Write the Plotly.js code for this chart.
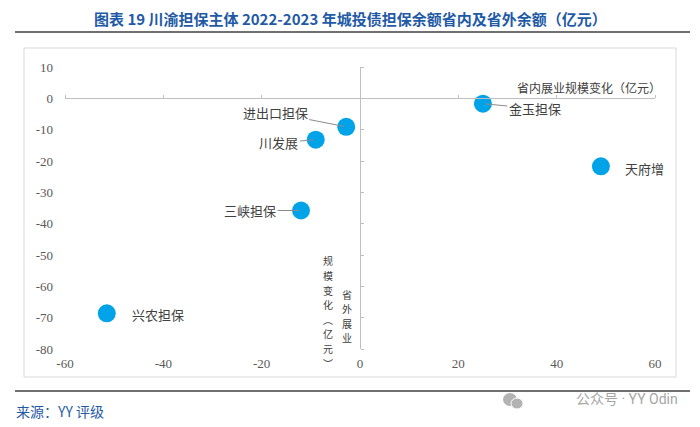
<!DOCTYPE html>
<html>
<head>
<meta charset="utf-8">
<script src="https://cdn.plot.ly/plotly-3.0.1.min.js"></script>
<style>html,body{margin:0;padding:0;background:#fff;}#chart{width:700px;height:427px;}</style>
</head>
<body>
<div id="chart"></div>
<script>
// ---- data ----
const names = ['金玉担保', '天府增', '进出口担保', '川发展', '三峡担保', '兴农担保'];
const domesticChange = [25.0, 49.0, -2.8, -9.0, -12.0, -51.5];   // 省内展业规模变化（亿元）
const externalChange = [-1.7, -21.7, -9.1, -13.2, -35.8, -68.6];  // 省外展业规模变化（亿元）
const xTicks = [-60, -40, -20, 0, 20, 40, 60];
const yTicks = [10, 0, -10, -20, -30, -40, -50, -60, -70, -80];
const xTitle = '省内展业规模变化（亿元）';
const yTitleRight = '省外展业';
const yTitleLeft = '规模变化︵亿元︶';

// label placement (pixel offsets from point) and whether a leader line is drawn
const labelOffsetX = [52, 44, -71, -37, -51, 51];
const labelOffsetY = [5, 2, -14, 3, 0, 1];
const labelLeader = [true, false, true, true, true, false];

// ---- layout helpers ----
const W = 700, H = 427, ML = 65, MR = 45, MT = 67, MB = 78;
const PW = W - ML - MR, PH = H - MT - MB;
const PX = p => (p - ML) / PW;
const PY = p => (H - MB - p) / PH;

const serif = 'Liberation Serif, Times New Roman, serif';
const cjk = 'Noto Sans CJK SC, sans-serif';

const traces = [
  {
    type: 'scatter', mode: 'markers',
    x: domesticChange, y: externalChange, text: names,
    marker: {size: 18, color: '#00a3e8'},
    hoverinfo: 'text+x+y', showlegend: false, cliponaxis: false
  },
  {type: 'scatter', mode: 'markers', x: [], y: [], xaxis: 'x2', yaxis: 'y2', showlegend: false, hoverinfo: 'skip'}
];

const annotations = names.map((n, i) => ({
  xref: 'x', yref: 'y', x: domesticChange[i], y: externalChange[i],
  text: n, showarrow: true, ax: labelOffsetX[i], ay: labelOffsetY[i],
  arrowhead: 0, arrowwidth: 1, standoff: 2,
  arrowcolor: labelLeader[i] ? '#8c8c8c' : 'rgba(0,0,0,0)',
  font: {family: cjk, size: 13, color: '#404040'}
}));

annotations.push(
  {xref: 'paper', yref: 'paper', x: PX(350), y: PY(18), xanchor: 'center', yanchor: 'middle', showarrow: false,
   text: '<b>图表 19 川渝担保主体 2022-2023 年城投债担保余额省内及省外余额（亿元）</b>',
   font: {family: cjk, size: 15, color: '#1f5aa6'}},
  {xref: 'paper', yref: 'paper', x: PX(663), y: PY(87), xanchor: 'right', yanchor: 'middle', showarrow: false,
   text: xTitle, font: {family: cjk, size: 12, color: '#404040'}},
  {xref: 'paper', yref: 'paper', x: PX(14), y: PY(411), xanchor: 'left', yanchor: 'middle', showarrow: false,
   text: '来源：YY 评级', font: {family: cjk, size: 14, color: '#1f5aa6'}},
  {xref: 'paper', yref: 'paper', x: PX(680), y: PY(399), xanchor: 'right', yanchor: 'middle', showarrow: false,
   text: '公众号 · YY Odin', font: {family: 'Roboto, Noto Sans CJK SC, sans-serif', size: 14, color: '#a6a6a6'}}
);

// vertical (stacked, upright) y-axis title, one character per annotation
const VSIZE = 10, VSTEP = 14.6;
function stackColumn(str, cx, cy) {
  const chars = Array.from(str);
  const top = cy - (chars.length - 1) * VSTEP / 2;
  chars.forEach((c, k) => annotations.push({
    xref: 'paper', yref: 'paper', x: PX(cx), y: PY(top + k * VSTEP),
    xanchor: 'center', yanchor: 'middle', showarrow: false,
    text: c, font: {family: cjk, size: VSIZE, color: '#404040'}
  }));
}
stackColumn(yTitleRight, 347, 316);
stackColumn(yTitleLeft, 328, 312);

const shapes = [
  {type: 'rect', xref: 'paper', yref: 'paper', x0: PX(24), x1: PX(676), y0: PY(377), y1: PY(48),
   line: {color: '#d9d9d9', width: 1}, layer: 'below'},
  {type: 'line', xref: 'paper', yref: 'paper', x0: PX(15), x1: PX(690), y0: PY(32), y1: PY(32),
   line: {color: '#404040', width: 1.5}},
  {type: 'line', xref: 'paper', yref: 'paper', x0: PX(15), x1: PX(690), y0: PY(391), y1: PY(391),
   line: {color: '#404040', width: 1.5}},
  {type: 'circle', xref: 'paper', yref: 'paper', x0: PX(503), x1: PX(517), y0: PY(406), y1: PY(393),
   line: {width: 0}, fillcolor: '#b3b3b3'},
  {type: 'circle', xref: 'paper', yref: 'paper', x0: PX(511), x1: PX(523), y0: PY(409), y1: PY(398),
   line: {color: '#ffffff', width: 1}, fillcolor: '#b3b3b3'}
];

const layout = {
  width: W, height: H,
  margin: {l: ML, r: MR, t: MT, b: MB, pad: 0},
  paper_bgcolor: '#ffffff', plot_bgcolor: '#ffffff',
  showlegend: false,
  xaxis: {
    range: [-60, 60], tickvals: xTicks, ticktext: xTicks.map(String),
    showgrid: false, zeroline: false, showline: false, ticks: '',
    ticklabelstandoff: 5,
    tickfont: {family: serif, size: 13, color: '#595959'}
  },
  yaxis: {
    range: [-80, 10], tickvals: yTicks, ticktext: yTicks.map(String),
    showgrid: false, zeroline: false, showline: false, ticks: '',
    ticklabelstandoff: 11,
    tickfont: {family: serif, size: 13, color: '#595959'}
  },
  xaxis2: {
    overlaying: 'x', anchor: 'free', side: 'top', position: 80 / 90,
    range: [-60, 60], tickvals: xTicks, showticklabels: false,
    showgrid: false, zeroline: false, showline: true, linecolor: '#bfbfbf', linewidth: 1,
    ticks: 'outside', ticklen: 3, tickcolor: '#bfbfbf'
  },
  yaxis2: {
    overlaying: 'y', anchor: 'free', side: 'right', position: 0.5,
    range: [-80, 10], tickvals: yTicks, showticklabels: false,
    showgrid: false, zeroline: false, showline: true, linecolor: '#bfbfbf', linewidth: 1,
    ticks: 'outside', ticklen: 3, tickcolor: '#bfbfbf'
  },
  annotations: annotations,
  shapes: shapes
};

Plotly.newPlot('chart', traces, layout, {staticPlot: true, displayModeBar: false});
</script>
</body>
</html>
